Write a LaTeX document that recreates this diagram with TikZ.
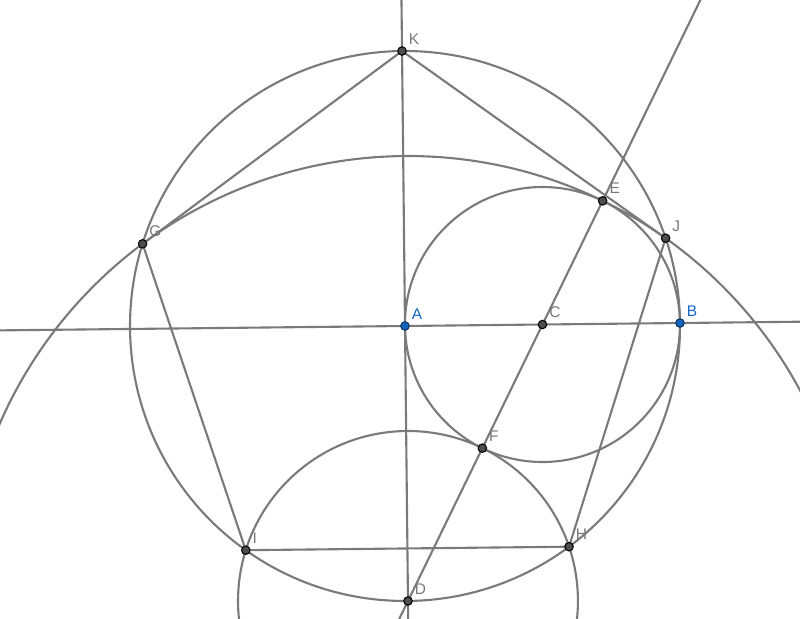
\documentclass[tikz,border=0pt]{standalone}
\usepackage{fontspec}
\setmainfont{Liberation Sans}
\definecolor{linegray}{RGB}{122,122,122}
\definecolor{pointgray}{RGB}{77,77,77}
\definecolor{labelgray}{RGB}{120,120,120}
\definecolor{pointblue}{RGB}{21,101,192}
\begin{document}
\begin{tikzpicture}[line width=0.6pt, draw=linegray,
		pt/.style={circle, draw=black, fill=pointgray, line width=0.3pt, inner sep=0pt, minimum size=0.085cm},
		bluept/.style={pt, draw=pointblue!50!black, fill=pointblue},
		lbl/.style={text=labelgray, font=\fontsize{4.4}{5}\selectfont, inner sep=0.7pt},
		bluelbl/.style={lbl, text=pointblue}]
				
				\useasboundingbox (0,0) rectangle (8,6.18);
				
				\clip (0,0) rectangle (8,6.18);
				
				\begin{scope}[shift={(4.05,2.92)}, rotate=0.62]
				
				\coordinate (A) at (0,0);
				\coordinate (B) at (0:2.75);
				\coordinate (C) at (0:1.375);
				\coordinate (D) at (270:2.75);
				\coordinate (K) at (90:2.75);
				\coordinate (E) at (1.9899,1.2298);
				\coordinate (F) at (0.7601,-1.2298);
				\coordinate (G) at (162:2.75);
				\coordinate (I) at (234:2.75);
				\coordinate (H) at (306:2.75);
				\coordinate (J) at (18:2.75);
				
				% circles
				\draw (A) circle (2.75);
				
				\draw (C) circle (1.375);
				
				\draw (D) circle (1.6996);
				
				\draw (D) circle (4.4496);
				
				% lines
				\draw (180:5) -- (0:5);
				
				\draw (90:4) -- (270:4);
				
				\draw (-0.6875,-4.125) -- (3.4375,4.125);
				
				% pentagon
				\draw (K) -- (J) -- (H) -- (I) -- (G) -- cycle;
				
				% points
				\node[pt, label={[lbl]45:K}] (k) at (K) {};
				
				\node[pt, label={[lbl]45:E}] (e) at (E) {};
				
				\node[pt, label={[lbl]45:J}] (j) at (J) {};
				
				\node[pt, label={[lbl]45:G}] (g) at (G) {};
				
				\node[pt, label={[lbl]45:C}] (c) at (C) {};
				
				\node[pt, label={[lbl]45:F}] (f) at (F) {};
				
				\node[pt, label={[lbl]45:I}] (i) at (I) {};
				
				\node[pt, label={[lbl]45:H}] (h) at (H) {};
				
				\node[pt, label={[lbl]45:D}] (d) at (D) {};
				
				\node[bluept, label={[bluelbl]45:A}] (a) at (A) {};
				
				\node[bluept, label={[bluelbl]45:B}] (b) at (B) {};
				
				\end{scope}
				
				\end{tikzpicture}
\end{document}
